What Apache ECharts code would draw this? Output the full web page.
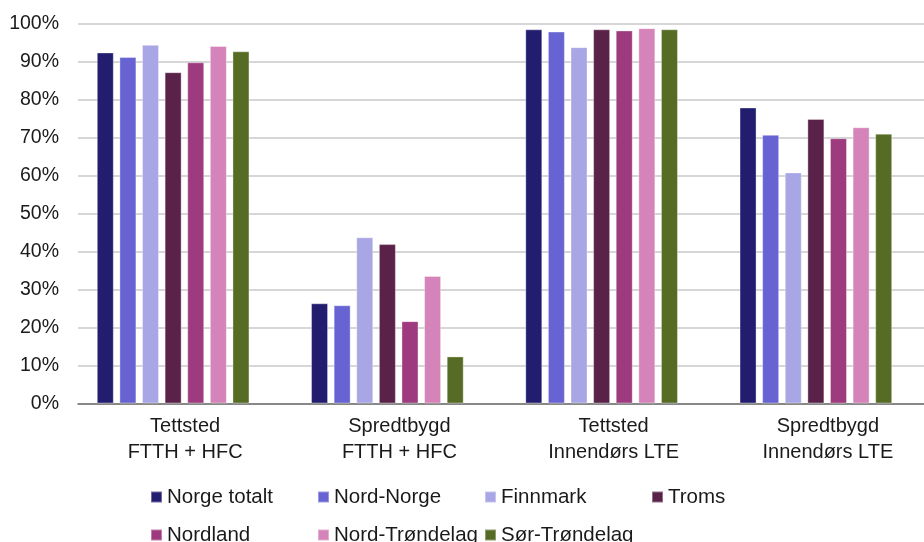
<!DOCTYPE html>
<html>
<head>
<meta charset="utf-8">
<script src="https://cdn.jsdelivr.net/npm/echarts@6/dist/echarts.min.js"></script>
<style>
  html, body { margin: 0; padding: 0; background: #fff; }
  #chart1 { width: 924px; height: 542px; }
</style>
</head>
<body>
<div id="chart1"></div>
<script>
// kategorier og verdier (andel i %)
var categories = ["Tettsted\nFTTH + HFC", "Spredtbygd\nFTTH + HFC", "Tettsted\nInnendørs LTE", "Spredtbygd\nInnendørs LTE"];
var seriesNames = ["Norge totalt", "Nord-Norge", "Finnmark", "Troms", "Nordland", "Nord-Trøndelag", "Sør-Trøndelag"];
var norgeTotalt = [92.5, 26.4, 98.6, 78.0];
var nordNorge = [91.3, 25.9, 98.0, 70.8];
var finnmark = [94.5, 43.8, 93.9, 60.9];
var troms = [87.3, 42.0, 98.6, 75.0];
var nordland = [89.9, 21.7, 98.3, 69.9];
var nordTrondelag = [94.2, 33.6, 98.9, 72.8];
var sorTrondelag = [92.8, 12.4, 98.6, 71.1];
var yTicks = { min: 0, max: 100, interval: 10 };

(function () {
  var myChart = echarts.init(document.querySelector("#chart1"));
  var colors = ["#221D6E", "#6763D3", "#A8A6E4", "#5A2149", "#9E3A7E", "#D584B9", "#566B23"];
  var values = [norgeTotalt, nordNorge, finnmark, troms, nordland, nordTrondelag, sorTrondelag];
  var font = "Liberation Sans, Arial, sans-serif";

  var series = seriesNames.map(function (name, i) {
    return {
      name: name,
      type: "bar",
      xAxisIndex: 1,
      yAxisIndex: 1,
      data: values[i],
      barWidth: 17,
      barGap: "33%",
      itemStyle: {
        color: colors[i],
        borderColor: "rgba(255,255,255,0.35)",
        borderWidth: 1,
      },
    };
  });

  var legendText = {
    fontFamily: font,
    fontSize: 20.5,
    color: "#1a1a1a",
    width: 150,
    lineHeight: 22,
  };

  var option = {
    color: colors,
    animation: false,
    // grid 0: rutenett, akser og etiketter; grid 1: søylene
    grid: [
      { left: 78, width: 857, top: 24, bottom: 138.5, outerBoundsMode: "none" },
      { left: 66, width: 857, top: 24, bottom: 138.5, outerBoundsMode: "none" },
    ],
    legend: [
      {
        data: seriesNames.slice(0, 4),
        left: 145,
        top: 481,
        itemWidth: 11,
        itemHeight: 11,
        itemGap: 0,
        icon: "rect",
        textStyle: legendText,
      },
      {
        data: seriesNames.slice(4),
        left: 145,
        top: 519,
        itemWidth: 11,
        itemHeight: 11,
        itemGap: 0,
        icon: "rect",
        textStyle: legendText,
      },
    ],
    xAxis: [
      {
        type: "category",
        gridIndex: 0,
        data: categories,
        axisTick: { show: false },
        axisLine: { show: true, lineStyle: { color: "#6e6e6e", width: 1.5 } },
        axisLabel: {
          margin: 10,
          fontFamily: font,
          fontSize: 20,
          lineHeight: 26,
          color: "#1a1a1a",
          interval: 0,
        },
      },
      {
        type: "category",
        gridIndex: 1,
        data: categories,
        show: false,
      },
    ],
    yAxis: [
      {
        type: "value",
        gridIndex: 0,
        min: yTicks.min,
        max: yTicks.max,
        interval: yTicks.interval,
        axisLine: { show: false },
        axisTick: { show: false },
        axisLabel: {
          formatter: "{value}%",
          margin: 19,
          fontFamily: font,
          fontSize: 19.5,
          color: "#1a1a1a",
        },
        splitLine: { lineStyle: { color: "#c8c8c8", width: 1.5 } },
      },
      {
        type: "value",
        gridIndex: 1,
        min: yTicks.min,
        max: yTicks.max,
        interval: yTicks.interval,
        show: false,
        splitLine: { show: false },
      },
    ],
    series: series,
  };
  myChart.setOption(option);
})();
</script>
</body>
</html>
